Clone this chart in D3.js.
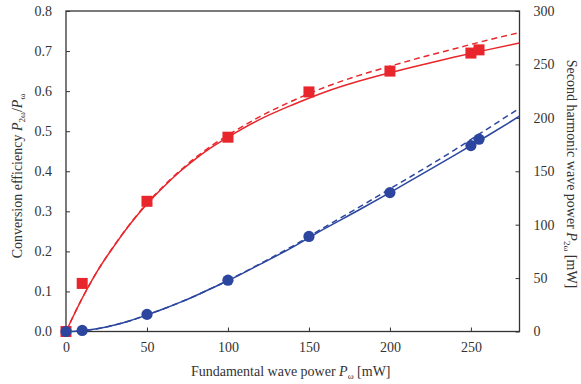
<!DOCTYPE html>
<html><head><meta charset="utf-8">
<script src="https://cdn.jsdelivr.net/npm/d3@7"></script>
<style>body{margin:0;background:#fff}svg{display:block}svg text{font-family:"Liberation Serif","Times New Roman",Tinos,Times,serif}</style>
</head><body><svg id="c" width="581" height="384"></svg>
<script>
// Measured points
const powerX = [0, 10, 50, 100, 150, 200, 250, 255];
const efficiency = [0, 0.12, 0.325, 0.485, 0.598, 0.65, 0.695, 0.703];
const shPower = [0, 1, 16, 48, 89, 130, 174, 180];
// Theory curves
const curveX = [0, 10, 20, 30, 40, 50, 60, 70, 80, 90, 100, 120, 140, 160, 180, 200, 220, 240, 260, 280];
const effSolid = [0, 0.083, 0.155, 0.215, 0.27, 0.318, 0.36, 0.398, 0.431, 0.46, 0.485, 0.53, 0.566, 0.598, 0.624, 0.646, 0.666, 0.685, 0.703, 0.72];
const effDashed = [0, 0.083, 0.155, 0.216, 0.271, 0.32, 0.362, 0.40, 0.434, 0.464, 0.49, 0.537, 0.576, 0.61, 0.638, 0.662, 0.685, 0.706, 0.727, 0.746];
const shSolid = [0, 0.8, 2.8, 6, 10.3, 15.5, 21, 27, 33.5, 40.5, 47.5, 63, 79, 96.5, 113, 130, 147.5, 165, 183, 201.5];
const shDashed = [0, 0.8, 2.8, 6, 10.3, 15.5, 21, 27, 33.5, 40.6, 47.8, 63.6, 80, 98, 115.5, 133.5, 151.5, 170, 189.5, 209];
const xTicks = [0, 50, 100, 150, 200, 250];
const yLeftTicks = [0, 0.1, 0.2, 0.3, 0.4, 0.5, 0.6, 0.7, 0.8];
const yRightTicks = [0, 50, 100, 150, 200, 250, 300];

const svg = d3.select("#c");
const L = 66, R = 519.5, T = 11, B = 331.5;
const x = d3.scaleLinear().domain([0, 280]).range([L, R]);
const yL = d3.scaleLinear().domain([0, 0.8]).range([B, T]);
const yR = d3.scaleLinear().domain([0, 300]).range([B, T]);
const red = "#e8262b", blue = "#2c46a0", axc = "#333";
const FF = '"Liberation Serif","Times New Roman",Tinos,Times,serif';

// frame
svg.append("rect").attr("x", L).attr("y", T).attr("width", R - L).attr("height", B - T)
  .attr("fill", "none").attr("stroke", axc).attr("stroke-width", 1.3);

const fmt1 = d3.format(".1f");
const gx = svg.append("g").attr("transform", `translate(0,${B})`)
  .call(d3.axisBottom(x).tickValues(xTicks).tickSize(-4).tickPadding(11).tickFormat(d3.format("d")));
const gl = svg.append("g").attr("transform", `translate(${L},0)`)
  .call(d3.axisLeft(yL).tickValues(yLeftTicks).tickSize(-4).tickPadding(14).tickFormat(fmt1));
const gr = svg.append("g").attr("transform", `translate(${R},0)`)
  .call(d3.axisRight(yR).tickValues(yRightTicks).tickSize(-4).tickPadding(14).tickFormat(d3.format("d")));
[gx, gl, gr].forEach(g => {
  g.attr("font-family", FF);
  g.select(".domain").remove();
  g.selectAll(".tick line").attr("stroke", axc).attr("stroke-width", 1);
  g.selectAll(".tick text").attr("font-size", 14).attr("fill", "#333");
});

// curves
const line = (ys, scale) => d3.line().curve(d3.curveMonotoneX)
  .x((d, i) => x(curveX[i])).y(d => scale(d))(ys);
svg.append("path").attr("d", line(effSolid, yL)).attr("fill", "none").attr("stroke", red).attr("stroke-width", 1.5);
svg.append("path").attr("d", line(effDashed, yL)).attr("fill", "none").attr("stroke", red).attr("stroke-width", 1.5).attr("stroke-dasharray", "6,4");
svg.append("path").attr("d", line(shSolid, yR)).attr("fill", "none").attr("stroke", blue).attr("stroke-width", 1.5);
svg.append("path").attr("d", line(shDashed, yR)).attr("fill", "none").attr("stroke", blue).attr("stroke-width", 1.5).attr("stroke-dasharray", "6,4");

// markers
const s = 11;
svg.selectAll("rect.sq").data(powerX).join("rect").attr("class", "sq")
  .attr("x", (d) => x(d) - s / 2).attr("y", (d, i) => yL(efficiency[i]) - s / 2)
  .attr("width", s).attr("height", s).attr("fill", red);
svg.selectAll("circle.ci").data(powerX).join("circle").attr("class", "ci")
  .attr("cx", d => x(d)).attr("cy", (d, i) => yR(shPower[i])).attr("r", 5.6).attr("fill", blue);

// titles
function title(t, parts) {
  parts.forEach(p => {
    const ts = t.append("tspan").text(p.t);
    if (p.i) ts.attr("font-style", "italic");
    if (p.sub) ts.attr("font-size", 9).attr("dy", 3);
    if (p.up) ts.attr("dy", -3);
  });
}
const xt = svg.append("text").attr("x", (L + R) / 2 - 2).attr("y", 376).attr("text-anchor", "middle")
  .attr("font-size", 14).attr("fill", "#333");
title(xt, [{t: "Fundamental wave power "}, {t: "P", i: 1}, {t: "ω", sub: 1}, {t: " [mW]", up: 1}]);
const lt = svg.append("text").attr("transform", `translate(22,176) rotate(-90)`)
  .attr("text-anchor", "middle").attr("font-size", 14).attr("fill", "#333");
title(lt, [{t: "Conversion efficiency "}, {t: "P", i: 1}, {t: "2ω", sub: 1}, {t: "/", up: 1}, {t: "P", i: 1}, {t: "ω", sub: 1}]);
const rt = svg.append("text").attr("transform", `translate(567,174) rotate(90)`)
  .attr("text-anchor", "middle").attr("font-size", 14).attr("fill", "#333");
title(rt, [{t: "Second harmonic wave power "}, {t: "P", i: 1}, {t: "2ω", sub: 1}, {t: " [mW]", up: 1}]);
</script></body></html>
